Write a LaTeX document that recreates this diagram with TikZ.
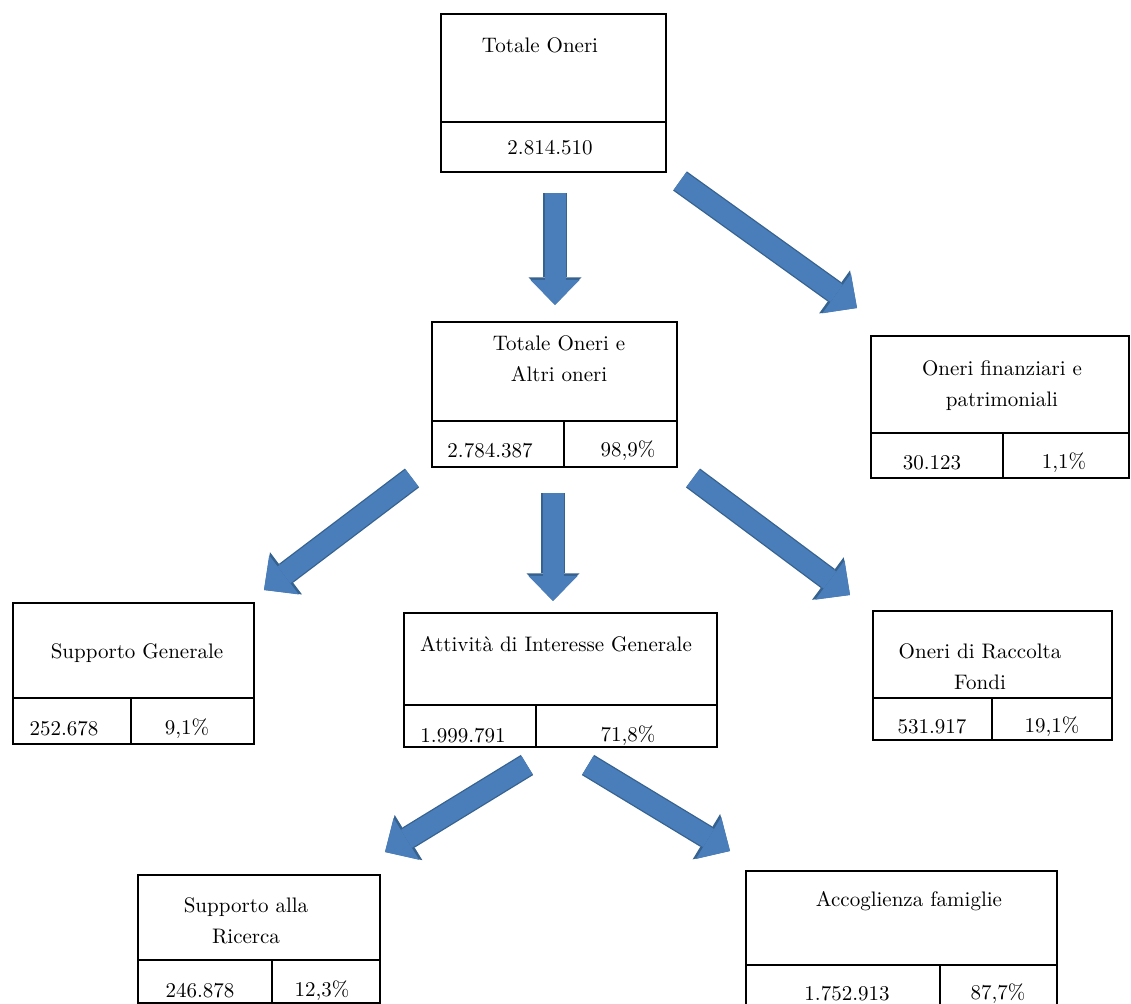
\documentclass[tikz,border=0pt]{standalone}
\usepackage{tikz}
\usetikzlibrary{positioning,fit,arrows.meta}

\definecolor{arrowblue}{HTML}{4A7EBB}
\definecolor{arrowedge}{HTML}{36628F}

\tikzset{
  box/.style={draw=black,line width=0.6pt,inner sep=0pt,rectangle},
  flow/.style={draw=arrowblue,line width=10.5pt,
    -{Triangle[length=12.5pt,width=24.5pt,line width=0pt]},
    preaction={draw=arrowedge,line width=11.8pt,
      -{Triangle[length=13.8pt,width=26.5pt,line width=0pt]}}},
}

\begin{document}
\begin{tikzpicture}[x=0.5pt,y=-0.5pt,every node/.style={font=\fontsize{10.5}{15.5}\selectfont}]
  \useasboundingbox (0,0) rectangle (1131,1004);
  %Boxes
  \node[box,fit={(441,14) (666,172)}] (tot) {};
  \node[box,fit={(432,322) (677,467)}] (toa) {};
  \node[box,fit={(871,336) (1129,478)}] (ofp) {};
  \node[box,fit={(13,603) (254,744)}] (sg) {};
  \node[box,fit={(404,613) (717,747)}] (aig) {};
  \node[box,fit={(873,611) (1112,740)}] (orf) {};
  \node[box,fit={(138,875) (380,1003)}] (sar) {};
  \node[box,fit={(746,871) (1057,1010)}] (af) {};

  %Dividers
  \draw[line width=0.6pt] (tot.west |- 0,122) -- (tot.east |- 0,122);
  \draw[line width=0.6pt] (toa.west |- 0,421) -- (toa.east |- 0,421) (564,421) -- (toa.south -| 564,0);
  \draw[line width=0.6pt] (ofp.west |- 0,433) -- (ofp.east |- 0,433) (1003,433) -- (ofp.south -| 1003,0);
  \draw[line width=0.6pt] (sg.west |- 0,698) -- (sg.east |- 0,698) (131,698) -- (sg.south -| 131,0);
  \draw[line width=0.6pt] (aig.west |- 0,705) -- (aig.east |- 0,705) (536,705) -- (aig.south -| 536,0);
  \draw[line width=0.6pt] (orf.west |- 0,698) -- (orf.east |- 0,698) (992,698) -- (orf.south -| 992,0);
  \draw[line width=0.6pt] (sar.west |- 0,960) -- (sar.east |- 0,960) (272,960) -- (sar.south -| 272,0);
  \draw[line width=0.6pt] (af.west |- 0,965) -- (af.east |- 0,965) (940,965) -- (af.south -| 940,0);

  %Texts
  \node at (540,45) (totT) {Totale Oneri};
  \node at (550,148) (totV) {2.814.510};
  \node[align=center] at (559,359) (toaT) {Totale Oneri e\\Altri oneri};
  \node at (490,451) (toaV) {2.784.387};
  \node at (628,451) (toaP) {98,9\%};
  \node[align=center] at (1002,386) (ofpT) {Oneri finanziari e\\patrimoniali};
  \node at (932,463) (ofpV) {30.123};
  \node at (1064,463) (ofpP) {1,1\%};
  \node at (137,653) (sgT) {Supporto Generale};
  \node at (64,729) (sgV) {252.678};
  \node at (187,729) (sgP) {9,1\%};
  \node at (556,644) (aigT) {Attività di Interesse Generale};
  \node at (463,736) (aigV) {1.999.791};
  \node at (628,736) (aigP) {71,8\%};
  \node[align=center] at (980,667) (orfT) {Oneri di Raccolta\\Fondi};
  \node at (932,727) (orfV) {531.917};
  \node at (1052,727) (orfP) {19,1\%};
  \node[align=center] at (246,921) (sarT) {Supporto alla\\Ricerca};
  \node at (200,991) (sarV) {246.878};
  \node at (322,991) (sarP) {12,3\%};
  \node at (909,901) (afT) {Accoglienza famiglie};
  \node at (847,994) (afV) {1.752.913};
  \node at (998,994) (afP) {87,7\%};

  %Arrows
  \coordinate (a1s) at (555,193);
  \coordinate (a1e) at (555,305);
  \coordinate (a2s) at (680,181);
  \coordinate (a2e) at (857,308);
  \coordinate (a3s) at (412,478);
  \coordinate (a3e) at (264,590);
  \coordinate (a4s) at (553,493);
  \coordinate (a4e) at (553,601);
  \coordinate (a5s) at (693,478);
  \coordinate (a5e) at (850,595);
  \coordinate (a6s) at (527,765);
  \coordinate (a6e) at (385,852);
  \coordinate (a7s) at (588,765);
  \coordinate (a7e) at (730,851);
  \draw[flow] (a1s) -- (a1e);
  \draw[flow] (a2s) -- (a2e);
  \draw[flow] (a3s) -- (a3e);
  \draw[flow] (a4s) -- (a4e);
  \draw[flow] (a5s) -- (a5e);
  \draw[flow] (a6s) -- (a6e);
  \draw[flow] (a7s) -- (a7e);
\end{tikzpicture}
\end{document}
